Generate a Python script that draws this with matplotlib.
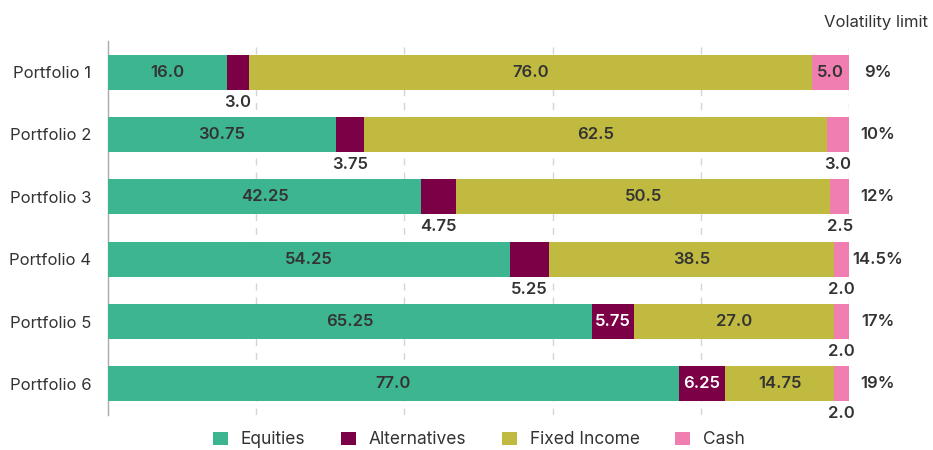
import matplotlib
matplotlib.use("Agg")
import matplotlib.pyplot as plt
from matplotlib.patches import Patch
import numpy as np

plt.rcParams['font.family'] = ['Inter', 'DejaVu Sans']

portfolios = ["Portfolio 1", "Portfolio 2", "Portfolio 3", "Portfolio 4", "Portfolio 5", "Portfolio 6"]
series_names = ["Equities", "Alternatives", "Fixed Income", "Cash"]
equities = [16.0, 30.75, 42.25, 54.25, 65.25, 77.0]
alternatives = [3.0, 3.75, 4.75, 5.25, 5.75, 6.25]
fixed_income = [76.0, 62.5, 50.5, 38.5, 27.0, 14.75]
cash = [5.0, 3.0, 2.5, 2.0, 2.0, 2.0]
volatility_limit = ["9%", "10%", "12%", "14.5%", "17%", "19%"]

colors = ["#3DB590", "#7C0046", "#C1BA41", "#F07EB1"]
text_colors = ["#333333", "#FFFFFF", "#333333", "#333333"]

fig = plt.figure(figsize=(9.33, 4.5), dpi=100)
ax = fig.add_axes([108/933, 1-415/450, (849-108)/933, (415-41)/450])

y = np.arange(len(portfolios))
data = [equities, alternatives, fixed_income, cash]
left = np.zeros(len(portfolios))
bar_h = 0.56


def fmt(v):
    s = f"{v:.2f}"
    if s.endswith("0"):
        s = s[:-1]
    return s


for i, (vals, c) in enumerate(zip(data, colors)):
    vals = np.array(vals)
    ax.barh(y, vals, left=left, height=bar_h, color=c, zorder=3, linewidth=0)
    for j, v in enumerate(vals):
        lab = fmt(v)
        cx = left[j] + v / 2
        inside = v > 5.5 or (v >= 5 and len(lab) <= 3)
        if inside:
            ax.text(cx, y[j], lab, ha="center", va="center", color=text_colors[i],
                    fontsize=12, fontweight="semibold", zorder=4)
        else:
            ax.annotate(lab, (cx, y[j]), xytext=(0, -21.5), textcoords="offset points",
                        ha="center", va="center", color="#333333",
                        fontsize=12, fontweight="semibold", zorder=4)
    left = left + vals

for j, vl in enumerate(volatility_limit):
    ax.annotate(vl, (100, y[j]), xytext=(20.5, 0), textcoords="offset points",
                ha="center", va="center", color="#333333", fontsize=12,
                fontweight="semibold", annotation_clip=False)

fig.text(928/933, 1 - 23/450, "Volatility limit", ha="right", va="center",
         color="#333333", fontsize=12)

ax.set_xlim(0, 100)
ax.set_ylim(5.5, -0.5)
ax.set_yticks(y)
ax.set_yticklabels(portfolios, fontsize=12, color="#333333")
ax.tick_params(axis="y", length=0, pad=12)
ax.set_xticks([20, 40, 60, 80, 100])
ax.tick_params(axis="x", length=0, labelbottom=False)
ax.grid(axis="x", color="#D5D5D5", linestyle=(0, (5, 5)), linewidth=1, zorder=0)
for s in ["top", "right", "bottom"]:
    ax.spines[s].set_visible(False)
ax.spines["left"].set_color("#AAAAAA")
ax.spines["left"].set_linewidth(1)

handles = [Patch(facecolor=c, edgecolor="none") for c in colors]
fig.legend(handles, series_names, loc="center", bbox_to_anchor=(479/933, 1 - 440/450),
           ncol=4, frameon=False, fontsize=12.5, handlelength=0.86, handleheight=0.86,
           columnspacing=2.05, handletextpad=0.75, labelcolor="#333333",
           borderpad=0)

fig.savefig("out.png", dpi=100)
